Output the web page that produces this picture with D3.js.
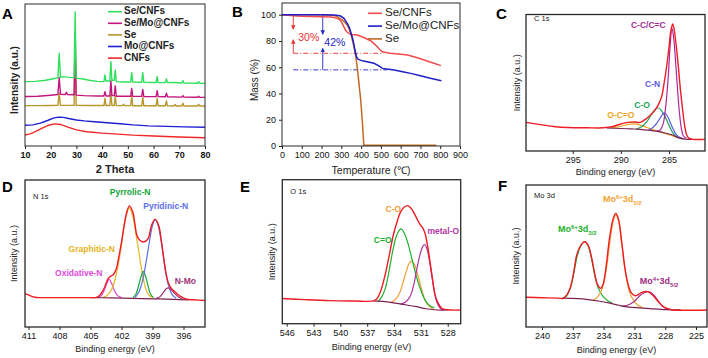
<!DOCTYPE html>
<html>
<head>
<meta charset="utf-8">
<script src="https://cdn.jsdelivr.net/npm/d3@7/dist/d3.min.js"></script>
<style>
  body { margin: 0; background: #fff; }
  svg { font-family: "Liberation Sans", Arial, sans-serif; }
</style>
</head>
<body>
<svg id="chart" width="708" height="358"></svg>
<script>
// ---------- A: XRD ([2 theta, intensity a.u.]) ----------
const XRD_TICKS = [10, 20, 30, 40, 50, 60, 70, 80];
const XRD_SERIES = ["Se/CNFs", "Se/Mo@CNFs", "Se", "Mo@CNFs", "CNFs"];
const XRD_SE_CNFS = [[10,45],[14,45.2],[18,46],[21,47],[22.8,47.6],[23.3,64.8],[23.8,48],[25,48.5],[27,48],[29.1,47.8],[29.5,93.9],[29.9,47.5],[32,47],[35,46],[38,45.2],[40.7,45],[41.1,49.7],[41.5,45.5],[43.0,45.5],[43.4,59],[43.8,46],[44.7,46],[45.1,53.1],[45.5,45],[48,44.8],[51.1,44.8],[51.5,51.3],[51.9,44.8],[55.4,44.6],[55.8,51.3],[56.2,44.6],[61.0,44.4],[61.4,48.5],[61.8,44.4],[64.6,44.3],[65.0,46.9],[65.4,44.3],[68,44.4],[71.0,44.1],[71.4,45.7],[71.8,44.1],[77.1,43.9],[77.5,45],[77.9,43.9],[80,43.8]];
const XRD_SE_MO_CNFS = [[10,34.6],[15,34.8],[20,35.5],[22.8,36],[23.3,48],[23.8,36.2],[25.6,36],[26.1,37.5],[26.6,36],[29.1,35.8],[29.5,80],[29.9,35.6],[33,35.2],[38,35],[40.7,35],[41.1,38],[41.5,35],[43.0,35],[43.4,45.7],[43.8,35.2],[44.7,35.2],[45.1,42],[45.5,34.8],[51.1,34.8],[51.5,40.3],[51.9,34.7],[55.4,34.7],[55.8,39.6],[56.2,34.6],[61.0,34.5],[61.4,38.7],[61.8,34.5],[64.6,34.4],[65.0,36.9],[65.4,34.4],[71.0,34.2],[71.4,35.2],[71.8,34.2],[77.1,34.1],[77.5,34.8],[77.9,34.1],[80,34]];
const XRD_SE = [[10,28.2],[15,28.2],[20,28.3],[22.8,28.4],[23.3,36.8],[23.8,28.4],[29.1,28.4],[29.5,76],[29.9,28.4],[35,28.3],[40.7,28.3],[41.1,33.4],[41.5,28.3],[43.0,28.3],[43.4,36.8],[43.8,28.3],[44.7,28.3],[45.1,35],[45.5,28.2],[47.9,28.2],[48.3,29.2],[48.7,28.2],[51.1,28.2],[51.5,35.2],[51.9,28.1],[55.4,28.1],[55.8,34],[56.2,28.1],[61.0,28.1],[61.4,33.4],[61.8,28.1],[64.6,28.1],[65.0,31.5],[65.4,28.1],[68.0,28],[68.4,29],[68.8,28],[71.0,28],[71.4,29.9],[71.8,28],[77.1,28],[77.5,29.2],[77.9,28],[80,28]];
const XRD_MO_CNFS = [[10,14.5],[13,14.8],[16,16],[19,18],[21,19.5],[23,20.2],[25,20],[27,19.2],[30,18.2],[33,17.6],[37,17],[42,16.3],[47,15.6],[52,14.8],[58,14.1],[65,13.7],[72,13.4],[80,13.1]];
const XRD_CNFS = [[10,7.7],[12,8.5],[14,10],[16.5,12.3],[19,14.5],[21.5,15.5],[24,15],[27,13],[30,11.3],[34,10],[40,9],[46,8.3],[52,7.6],[60,7],[70,6.3],[80,5.8]];

// ---------- B: TGA ([temperature C, mass %]) ----------
const TGA_TEMP_TICKS = [0, 100, 200, 300, 400, 500, 600, 700, 800, 900];
const TGA_MASS_TICKS = [0, 20, 40, 60, 80, 100];
const TGA_SERIES = ["Se/CNFs", "Se/Mo@CNFs", "Se"];
const TGA_SE_CNFS = [[0,100],[30,99.6],[60,99.2],[100,98.9],[150,98.7],[200,98.5],[250,98.2],[279,97.2],[295,95.8],[304,93.4],[313,90.8],[321,88.3],[330,86.6],[338,85.8],[355,85],[381,84.5],[410,82.8],[448,80.2],[465,78],[482,75.6],[495,73.3],[508,71.8],[530,71],[550,70.6],[600,69.8],[635,69.3],[680,67.4],[719,65.5],[760,63.4],[804,61.2]];
const TGA_SE_MO_CNFS = [[0,100],[100,100],[200,100],[260,99.8],[285,99.4],[296,99],[313,97.2],[330,93.4],[340,90.5],[347,87],[353,84],[359,80.7],[364,77],[369,73],[373,70],[377,68],[381,66.8],[386,66],[396,65.4],[406,65],[430,64.2],[465,63],[490,61],[508,59.1],[530,58.6],[567,57.9],[610,56.6],[651,55.3],[700,53.5],[750,51.6],[806,49.7]];
const TGA_SE = [[0,100],[100,100],[200,100],[260,99.6],[279,98.5],[292,97.2],[304,96],[318,94],[330,92],[340,89],[347,85.8],[354,82],[360,78],[366,74],[372,69.3],[378,62.5],[384,55.3],[391,45],[398,35],[403,25],[408,14.7],[411,7],[414,0.5],[500,0.5],[650,0.5],[780,0.5]];
const TGA_RESIDUE = [70.6, 58];
const TGA_LOSS_LABELS = ["30%", "42%"];

// ---------- C: C 1s ([binding energy eV, intensity a.u.]) ----------
const C1S_TICKS = [295, 290, 285];
const C1S_ENVELOPE = [[299.85,21],[298.5,19.5],[297,18],[295.5,17.2],[293.5,17],[291.8,17],[290.8,18],[290,19.8],[289.3,21],[288.6,21.2],[288,21],[287.3,24],[286.9,26.5],[286.45,30],[286.1,34],[285.76,40],[285.5,50],[285.24,62],[285.0,76],[284.82,87.4],[284.62,93],[284.5,90.5],[284.38,85],[284.2,74],[284.03,62],[283.8,44],[283.58,30],[283.38,19],[283.16,11.7],[282.9,9.2],[282.48,8.5],[281.26,8.5]];
const C1S_BACKGROUND = [[291.5,16.9],[290,16.5],[289,16.2],[288,15.9],[287,15.2],[286,14.2],[285.2,12.8],[284.6,11.7],[284.2,10.2],[283.8,9.2],[283.3,8.7],[282.5,8.5]];
const C1S_CC = [[286.3,14.5],[285.9,15.5],[285.6,20],[285.35,32],[285.1,52],[284.9,75],[284.69,90],[284.5,82],[284.3,64],[284.1,44],[283.9,27],[283.7,16],[283.5,11],[283.2,9.5]];
const C1S_CN = [[287.2,15],[286.7,17],[286.2,21],[285.8,25.5],[285.5,28],[285.2,26],[284.9,21.5],[284.6,16.5],[284.3,12.5],[284.0,10.5],[283.6,9.3]];
const C1S_CO = [[288.4,16],[287.8,18],[287.3,21.5],[286.9,26],[286.5,30],[286.2,31.7],[285.9,30.5],[285.5,26.5],[285.1,20.5],[284.7,14.5],[284.3,11],[283.9,9.5]];
const C1S_OCO = [[291.2,17],[290.5,17.4],[289.8,18.5],[289.2,19.5],[288.6,19.8],[288.0,19],[287.4,17.5],[286.8,16],[286.2,14.5],[285.5,13],[284.9,11.8],[284.3,10.2]];
const C1S_LABELS = ["C-C/C=C", "C-N", "C-O", "O-C=O"];

// ---------- D: N 1s ----------
const N1S_TICKS = [411, 408, 405, 402, 399, 396];
const N1S_ENVELOPE = [[411.34,22.7],[410.9,21.5],[410.4,20.2],[409.5,20],[407,20],[405,20],[404.4,20.2],[404.1,21.6],[403.7,26],[403.3,32.9],[402.95,35],[402.8,35.6],[402.5,39.6],[402.25,48],[402.0,57.7],[401.75,69],[401.5,77.9],[401.24,82.4],[400.9,78],[400.7,70],[400.5,62],[400.2,58.8],[399.95,58],[399.7,58.3],[399.4,60.5],[399.1,69],[398.75,73.4],[398.4,69],[398.15,59],[397.95,48.6],[397.7,37],[397.5,30.6],[397.25,27],[397.0,25],[396.6,22.5],[396.2,20.5],[395.7,18.9],[395,18.5],[393.92,18]];
const N1S_BACKGROUND = [[405,20],[403,19.8],[401,19.5],[399,19.2],[397,18.8],[395.5,18.5]];
const N1S_OXIDATIVE = [[404.4,20],[404.0,21],[403.7,24.5],[403.45,29],[403.2,32.4],[402.95,29.5],[402.7,25],[402.4,21.5],[402.0,20]];
const N1S_GRAPHITIC = [[403.8,20],[403.4,21.5],[403.0,25],[402.6,33],[402.2,47],[401.9,61],[401.6,74],[401.24,81],[400.9,75],[400.6,63],[400.3,50],[400.0,37],[399.7,27],[399.4,22],[399.0,20]];
const N1S_PYRROLIC = [[400.9,20],[400.6,22.5],[400.35,28],[400.1,34.5],[399.9,37.8],[399.7,35],[399.45,28.5],[399.2,22.5],[398.9,20]];
const N1S_PYRIDINIC = [[400.7,20],[400.3,24],[399.95,32],[399.6,45],[399.3,58],[399.0,69],[398.75,73],[398.5,70],[398.2,60],[397.95,48],[397.7,36],[397.4,27],[397.1,22],[396.7,19.5]];
const N1S_NMO = [[398.7,19.3],[398.3,20.5],[397.95,23.5],[397.7,25.8],[397.47,26.6],[397.2,25.5],[396.9,23],[396.5,20.5],[396.1,19]];
const N1S_LABELS = ["Oxidative-N", "Graphitic-N", "Pyrrolic-N", "Pyridinic-N", "N-Mo"];

// ---------- E: O 1s ----------
const O1S_TICKS = [546, 543, 540, 537, 534, 531, 528];
const O1S_ENVELOPE = [[546.49,17.5],[544,16.7],[541.2,16],[538.5,15.8],[536.3,15.8],[535.94,17.1],[535.5,22.5],[535.0,33.8],[534.55,47],[534.08,61.6],[533.65,71],[533.25,77.8],[532.85,81],[532.47,82],[532.15,80.5],[531.85,77.8],[531.45,73],[531.1,69],[530.8,66.5],[530.54,62.8],[530.25,54],[529.98,43],[529.7,31],[529.42,20],[529.05,14],[528.67,10.7],[528.1,9.7],[526.55,9.5]];
const O1S_BACKGROUND = [[536.3,15.8],[535,15.3],[533.7,14.1],[532.6,13],[531.5,11.8],[530.4,10.4],[529.2,9.5],[528,9.5]];
const O1S_CO_DOUBLE = [[535.8,15.5],[535.4,18.5],[535.0,24],[534.7,32],[534.4,42],[534.1,52],[533.75,60.5],[533.4,65],[533.2,65.8],[532.9,63.5],[532.5,57],[532.1,47.5],[531.7,37.5],[531.3,28.5],[530.9,21.5],[530.5,16],[530.0,12.5],[529.5,11]];
const O1S_CO_SINGLE = [[534.4,14.5],[533.9,16.5],[533.4,21],[533.0,28.5],[532.6,37],[532.3,42],[532.0,43.5],[531.7,41],[531.35,34],[531.0,25.5],[530.6,17.5],[530.2,13],[529.7,10.5]];
const O1S_METAL = [[533.3,13.5],[532.7,15],[532.2,19],[531.8,27],[531.45,38],[531.1,48],[530.8,53.5],[530.6,55],[530.35,52.5],[530.05,44],[529.75,32],[529.45,21],[529.15,14],[528.8,10.5],[528.4,9.5]];
const O1S_LABELS = ["C=O", "C-O", "metal-O"];

// ---------- F: Mo 3d ----------
const MO3D_TICKS = [240, 237, 234, 231, 228, 225];
const MO3D_ENVELOPE = [[241.56,20.9],[240,20.6],[238.5,20.3],[237.93,20.2],[237.6,22.5],[237.27,27.3],[236.95,37],[236.62,50.7],[236.3,56.5],[236.0,59.5],[235.8,60],[235.5,57.5],[235.16,48.4],[234.84,36.6],[234.6,30],[234.28,27.2],[234.05,30],[233.87,36.6],[233.7,46],[233.38,64.8],[233.06,76.5],[232.82,80],[232.57,76.5],[232.24,60],[231.92,41.3],[231.6,29.6],[231.3,24],[230.94,22],[230.6,23],[230.29,24.4],[229.71,24.9],[229.16,22],[228.7,18],[228.19,14.3],[227.7,12.8],[227.2,12],[223.93,12]];
const MO3D_BACKGROUND = [[238,20.3],[236.5,20],[235.5,19.3],[234.5,18.3],[233.5,17],[232.5,15.3],[231.5,14],[230.5,13.5],[229.5,13],[228,12.2],[226.5,12]];
const MO3D_MO6_32 = [[238.0,20.3],[237.6,22],[237.25,27],[236.95,36],[236.62,48.5],[236.3,56],[236.0,59.5],[235.8,60],[235.5,57],[235.16,47.5],[234.84,35.5],[234.55,28],[234.35,25],[234.0,21],[233.6,18.5],[233.2,17]];
const MO3D_MO6_52 = [[235.0,19],[234.6,21],[234.25,25],[233.95,32],[233.65,45],[233.35,62],[233.05,75],[232.82,79],[232.57,75.5],[232.24,59],[231.92,40.5],[231.6,28],[231.3,21.5],[230.95,17.5],[230.6,15],[230.2,13.8]];
const MO3D_MO4_52 = [[232.2,14.8],[231.7,15.3],[231.2,17],[230.8,19.5],[230.4,22.5],[230.0,24.3],[229.71,24.9],[229.4,24.3],[229.05,22],[228.7,18.5],[228.3,15],[227.9,13],[227.4,12.2]];
const MO3D_LABELS = [["Mo", "6+", "3d", "3/2"], ["Mo", "6+", "3d", "5/2"], ["Mo", "4+", "3d", "5/2"]];

const svg = d3.select("#chart");
const RED = "#ee1c24";
const BG_LINE = "#7b2150";

function drawFrame(g, b, w) {
  g.append("rect")
    .attr("x", b.left)
    .attr("y", b.top)
    .attr("width", b.right - b.left)
    .attr("height", b.bottom - b.top)
    .attr("fill", "none")
    .attr("stroke", "#2a2a2a")
    .attr("stroke-width", w || 1.2);
}

function styleAxis(sel, size, weight) {
  sel.attr("font-size", null).attr("font-family", null).attr("color", "#222");
  sel.select(".domain").remove();
  sel.selectAll("text")
    .style("font-size", size + "px")
    .style("font-weight", weight || "normal")
    .attr("fill", "#111");
}

function panelLetter(x, y, t) {
  svg.append("text")
    .attr("x", x)
    .attr("y", y)
    .style("font-size", "15px")
    .style("font-weight", "bold")
    .text(t);
}

function yTitle(x, y, t, size, weight) {
  svg.append("text")
    .attr("transform", `translate(${x},${y}) rotate(-90)`)
    .attr("text-anchor", "middle")
    .attr("dominant-baseline", "middle")
    .style("font-size", size + "px")
    .style("font-weight", weight || "normal")
    .attr("fill", "#222")
    .text(t);
}

function xTitle(x, y, t, size, weight) {
  svg.append("text")
    .attr("x", x)
    .attr("y", y)
    .attr("text-anchor", "middle")
    .attr("dominant-baseline", "middle")
    .style("font-size", size + "px")
    .style("font-weight", weight || "normal")
    .attr("fill", "#222")
    .text(t);
}

// ================= Panel A =================
(function () {
  const b = { left: 25, right: 205, top: 4, bottom: 146 };
  const x = d3.scaleLinear().domain([10, 80]).range([b.left, b.right]);
  const y = d3.scaleLinear().domain([0, 100]).range([146, 3]);
  const g = svg.append("g");
  const line = d3.line().x((d) => x(d[0])).y((d) => y(d[1]));
  const colors = ["#2fe05c", "#c2167e", "#b9962c", "#1e1ed2", "#f02828"];
  const series = [XRD_SE_CNFS, XRD_SE_MO_CNFS, XRD_SE, XRD_MO_CNFS, XRD_CNFS];

  // draw bottom curves first so the upper ones sit on top
  [4, 3, 2, 1, 0].forEach((i) => {
    g.append("path")
      .datum(series[i])
      .attr("fill", "none")
      .attr("stroke", colors[i])
      .attr("stroke-width", 1.4)
      .attr("stroke-linejoin", "round")
      .attr("d", line);
  });

  drawFrame(g, b, 1);
  g.append("g")
    .attr("transform", `translate(0,${b.bottom})`)
    .call(d3.axisBottom(x).tickValues(XRD_TICKS).tickSize(3).tickPadding(3).tickSizeOuter(0))
    .call((a) => styleAxis(a, 9, "bold"));

  const leg = g.append("g");
  XRD_SERIES.forEach((name, i) => {
    const yy = 11.7 + i * 11.6;
    leg.append("line")
      .attr("x1", 108).attr("x2", 122)
      .attr("y1", yy).attr("y2", yy)
      .attr("stroke", colors[i])
      .attr("stroke-width", 1.6);
    leg.append("text")
      .attr("x", 124)
      .attr("y", yy)
      .attr("dominant-baseline", "middle")
      .style("font-size", "10px")
      .style("font-weight", "bold")
      .attr("fill", "#222")
      .text(name);
  });

  yTitle(15, 80, "Intensity (a.u.)", 10, "bold");
  xTitle(115, 170, "2 Theta", 11, "bold");
  panelLetter(2, 19, "A");
})();

// ================= Panel B =================
(function () {
  const b = { left: 282, right: 460, top: 3, bottom: 146 };
  const x = d3.scaleLinear().domain([0, 900]).range([b.left, b.right]);
  const y = d3.scaleLinear().domain([0, 100]).range([146, 14.7]);
  const g = svg.append("g");
  const line = d3.line().x((d) => x(d[0])).y((d) => y(d[1]));
  const colors = ["#f24a4a", "#1e1ec8", "#c06a24"];
  const series = [TGA_SE_CNFS, TGA_SE_MO_CNFS, TGA_SE];

  const defs = svg.append("defs");
  ["#e83030", "#2323c8"].forEach((c, i) => {
    defs.append("marker")
      .attr("id", "arrow" + i)
      .attr("viewBox", "0 0 10 10")
      .attr("refX", 9)
      .attr("refY", 5)
      .attr("markerWidth", 5)
      .attr("markerHeight", 5)
      .attr("orient", "auto")
      .append("path")
      .attr("d", "M0,0L10,5L0,10z")
      .attr("fill", c);
  });

  // dash-dot residue guides and loss arrows
  const guide = [
    { c: "#e83030", tx: 57, end: 505, top: 88.9, low: 81, lx: 82, ly: 82 },
    { c: "#2323c8", tx: 206, end: 533, top: 85, low: 74.4, lx: 214, ly: 78 },
  ];
  guide.forEach((d, i) => {
    g.append("line")
      .attr("x1", x(57)).attr("x2", x(d.end))
      .attr("y1", y(TGA_RESIDUE[i])).attr("y2", y(TGA_RESIDUE[i]))
      .attr("stroke", d.c)
      .attr("stroke-width", 0.9)
      .attr("stroke-dasharray", "5,2,1,2");
    g.append("line")
      .attr("x1", x(d.tx)).attr("x2", x(d.tx))
      .attr("y1", y(100)).attr("y2", y(d.top))
      .attr("stroke", d.c)
      .attr("stroke-width", 0.9)
      .attr("marker-end", `url(#arrow${i})`);
    g.append("line")
      .attr("x1", x(d.tx)).attr("x2", x(d.tx))
      .attr("y1", y(TGA_RESIDUE[i])).attr("y2", y(d.low))
      .attr("stroke", d.c)
      .attr("stroke-width", 0.9)
      .attr("marker-end", `url(#arrow${i})`);
    g.append("text")
      .attr("x", x(d.lx))
      .attr("y", y(d.ly))
      .attr("dominant-baseline", "middle")
      .style("font-size", "10.5px")
      .attr("fill", d.c)
      .text(TGA_LOSS_LABELS[i]);
  });

  [2, 0, 1].forEach((i) => {
    g.append("path")
      .datum(series[i])
      .attr("fill", "none")
      .attr("stroke", colors[i])
      .attr("stroke-width", 1.5)
      .attr("d", line);
  });

  drawFrame(g, b, 1);
  g.append("g")
    .attr("transform", `translate(0,${b.bottom})`)
    .call(d3.axisBottom(x).tickValues(TGA_TEMP_TICKS).tickSize(3).tickPadding(3).tickSizeOuter(0))
    .call((a) => styleAxis(a, 9));
  g.append("g")
    .attr("transform", `translate(${b.left},0)`)
    .call(d3.axisLeft(y).tickValues(TGA_MASS_TICKS).tickSize(3).tickPadding(3).tickSizeOuter(0))
    .call((a) => styleAxis(a, 9));

  TGA_SERIES.forEach((name, i) => {
    const yy = 13.3 + i * 12.8;
    g.append("line")
      .attr("x1", 368).attr("x2", 382)
      .attr("y1", yy).attr("y2", yy)
      .attr("stroke", colors[i])
      .attr("stroke-width", 1.6);
    g.append("text")
      .attr("x", 385)
      .attr("y", yy)
      .attr("dominant-baseline", "middle")
      .style("font-size", "11.5px")
      .attr("fill", "#222")
      .text(name);
  });

  yTitle(255, 80, "Mass (%)", 10);
  xTitle(371, 171.5, "Temperature (\u2103)", 10.5);
  panelLetter(232, 17, "B");
})();

// ================= XPS panels =================
function drawXps(p) {
  const b = p.box;
  const g = svg.append("g");
  const x = d3.scaleLinear().domain(p.domain).range([b.left, b.right]);
  const y = d3.scaleLinear().domain([0, 100]).range([b.bottom, b.top]);
  const line = d3.line()
    .x((d) => x(d[0]))
    .y((d) => y(d[1]))
    .curve(d3.curveCatmullRom.alpha(0.5));

  p.components.forEach((c) => {
    g.append("path")
      .datum(c.data)
      .attr("fill", "none")
      .attr("stroke", c.color)
      .attr("stroke-width", 1.2)
      .attr("d", line);
  });
  g.append("path")
    .datum(p.background)
    .attr("fill", "none")
    .attr("stroke", BG_LINE)
    .attr("stroke-width", 1.2)
    .attr("d", line);
  g.append("path")
    .datum(p.envelope)
    .attr("fill", "none")
    .attr("stroke", RED)
    .attr("stroke-width", 1.4)
    .attr("d", line);

  drawFrame(g, b, 1.3);
  g.append("g")
    .attr("transform", `translate(0,${b.bottom})`)
    .call(d3.axisBottom(x).tickValues(p.ticks).tickSize(3).tickPadding(3).tickSizeOuter(0))
    .call((a) => styleAxis(a, 9));

  g.append("text")
    .attr("x", b.left + 8)
    .attr("y", p.coreY)
    .attr("dominant-baseline", "middle")
    .style("font-size", "7.5px")
    .attr("fill", "#222")
    .text(p.core);

  p.labels.forEach((l) => {
    const t = g.append("text")
      .attr("x", x(l.at[0]))
      .attr("y", y(l.at[1]))
      .attr("text-anchor", "middle")
      .attr("dominant-baseline", "middle")
      .style("font-size", (l.size || 8.5) + "px")
      .style("font-weight", "bold")
      .attr("fill", l.color);
    if (Array.isArray(l.text)) {
      t.append("tspan").text(l.text[0]);
      t.append("tspan").attr("dy", -3.5).style("font-size", "6px").text(l.text[1]);
      t.append("tspan").attr("dy", 3.5).text(l.text[2]);
      t.append("tspan").attr("dy", 2.5).style("font-size", "6px").text(l.text[3]);
    } else {
      t.text(l.text);
    }
  });

  yTitle(p.yTitleX, (b.top + b.bottom) / 2, "Intensity (a.u.)", 9);
  xTitle((b.left + b.right) / 2, p.xTitleY, "Binding energy (eV)", 9);
  panelLetter(p.letterX, p.letterY, p.letter);
}

drawXps({
  letter: "C", letterX: 496, letterY: 18.5,
  box: { left: 526, right: 705, top: 14.5, bottom: 151 },
  domain: [299.85, 281.26], ticks: C1S_TICKS,
  envelope: C1S_ENVELOPE, background: C1S_BACKGROUND,
  components: [
    { data: C1S_OCO, color: "#e8a628" },
    { data: C1S_CO, color: "#1a9f5a" },
    { data: C1S_CN, color: "#5a5ae6" },
    { data: C1S_CC, color: "#b0279a" },
  ],
  core: "C 1s", coreY: 19.3,
  labels: [
    { text: C1S_LABELS[0], at: [287.15, 91.8], color: "#a03090" },
    { text: C1S_LABELS[1], at: [286.7, 48.9], color: "#5a5ae6" },
    { text: C1S_LABELS[2], at: [287.8, 33], color: "#1a9f5a" },
    { text: C1S_LABELS[3], at: [290.0, 25.6], color: "#e8a628" },
  ],
  yTitleX: 517.5, xTitleY: 173,
});

drawXps({
  letter: "D", letterX: 2, letterY: 191.5,
  box: { left: 25, right: 205, top: 180, bottom: 327 },
  domain: [411.34, 393.92], ticks: N1S_TICKS,
  envelope: N1S_ENVELOPE, background: N1S_BACKGROUND,
  components: [
    { data: N1S_OXIDATIVE, color: "#e04ad8" },
    { data: N1S_GRAPHITIC, color: "#e6b422" },
    { data: N1S_PYRROLIC, color: "#13a538" },
    { data: N1S_PYRIDINIC, color: "#5b6fe6" },
    { data: N1S_NMO, color: "#a03377" },
  ],
  core: "N 1s", coreY: 196.7,
  labels: [
    { text: N1S_LABELS[0], at: [406.14, 36.3], color: "#e04ad8" },
    { text: N1S_LABELS[1], at: [404.88, 52.7], color: "#e6b422" },
    { text: N1S_LABELS[2], at: [401.17, 91.4], color: "#13a538" },
    { text: N1S_LABELS[3], at: [397.72, 81.8], color: "#5b6fe6" },
    { text: N1S_LABELS[4], at: [395.82, 31.1], color: "#a03377" },
  ],
  yTitleX: 15, xTitleY: 350,
});

drawXps({
  letter: "E", letterX: 240, letterY: 192,
  box: { left: 282.3, right: 460.7, top: 179.7, bottom: 323.7 },
  domain: [546.49, 526.55], ticks: O1S_TICKS,
  envelope: O1S_ENVELOPE, background: O1S_BACKGROUND,
  components: [
    { data: O1S_CO_SINGLE, color: "#f29d38" },
    { data: O1S_CO_DOUBLE, color: "#1cb02e" },
    { data: O1S_METAL, color: "#b2329e" },
  ],
  core: "O 1s", coreY: 192.3,
  labels: [
    { text: O1S_LABELS[0], at: [535.27, 57.6], color: "#1cb02e" },
    { text: O1S_LABELS[1], at: [534.08, 79], color: "#f29d38" },
    { text: O1S_LABELS[2], at: [528.49, 63.9], color: "#b2329e" },
  ],
  yTitleX: 272.7, xTitleY: 348,
});

drawXps({
  letter: "F", letterX: 498, letterY: 191,
  box: { left: 526, right: 707, top: 185, bottom: 327 },
  domain: [241.56, 223.93], ticks: MO3D_TICKS,
  envelope: MO3D_ENVELOPE, background: MO3D_BACKGROUND,
  components: [
    { data: MO3D_MO6_32, color: "#1cb02e" },
    { data: MO3D_MO6_52, color: "#f2a230" },
    { data: MO3D_MO4_52, color: "#a02c84" },
  ],
  core: "Mo 3d", coreY: 195.7,
  labels: [
    { text: MO3D_LABELS[0], at: [236.56, 68.3], color: "#1cb02e", size: 9 },
    { text: MO3D_LABELS[1], at: [232.18, 89.4], color: "#f2a230", size: 9 },
    { text: MO3D_LABELS[2], at: [228.6, 31.5], color: "#a02c84", size: 9 },
  ],
  yTitleX: 516.7, xTitleY: 351,
});
</script>
</body>
</html>
